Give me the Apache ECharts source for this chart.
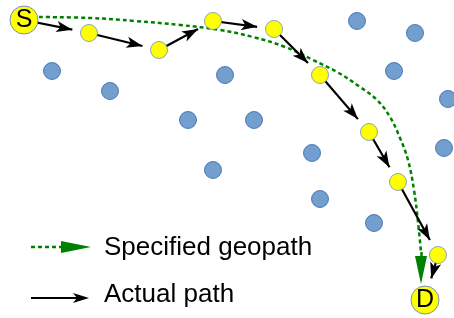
<!DOCTYPE html>
<html>
<head>
<meta charset="utf-8">
<script src="https://cdn.jsdelivr.net/npm/echarts@6/dist/echarts.min.js"></script>
<style>
  html, body { margin: 0; padding: 0; background: #fff; }
  #chart { width: 454px; height: 318px; }
</style>
</head>
<body>
<div id="chart"></div>
<script>
// node positions (pixel space of the picture, y grows downward)
var pathNodes = [[24, 20], [89, 33], [159, 50], [213, 21], [274, 29], [320, 75], [369, 132], [398, 182], [438, 255], [425, 300]];
var endNodes = [{ name: "S", value: [24, 20] }, { name: "D", value: [425, 300] }];
var otherNodes = [[52, 71], [110, 91], [188, 120], [225, 75], [254, 120], [213, 170], [357, 21], [415, 33],
  [394, 71], [448, 99], [312, 153], [444, 148], [320, 199], [374, 223]];
// specified geopath, last point is the arrow tip
var geopath = [[39, 17], [90, 18], [135, 21], [180, 25], [220, 30], [253, 37], [285, 47], [313, 60], [337, 72],
  [360, 87], [377, 100], [390, 117], [400, 138], [408, 160], [414, 190], [418, 222], [421, 252], [421, 284]];
var legendLabels = ["Specified geopath", "Actual path"];

var font = "'Liberation Sans', Arial, sans-serif";
var smallR = 8.5, bigR = 14;
var arrowSize = [8.5, 16];
var geoArrowSize = [12, 28];

// pull segment end back by d along the segment
function shorten(a, b, d) {
  var dx = b[0] - a[0], dy = b[1] - a[1];
  var len = Math.sqrt(dx * dx + dy * dy);
  return [b[0] - dx / len * d, b[1] - dy / len * d];
}

var arrowData = [];
for (var i = 0; i < pathNodes.length - 1; i++) {
  var r = (i + 1 === pathNodes.length - 1) ? bigR : smallR;
  arrowData.push({ coords: [pathNodes[i], shorten(pathNodes[i], pathNodes[i + 1], r + arrowSize[1] / 2 + 0.5)] });
}
var n = geopath.length;
var geoTail = [{ coords: [geopath[n - 2], shorten(geopath[n - 2], geopath[n - 1], geoArrowSize[1] / 2)] }];

var myChart = echarts.init(document.getElementById("chart"));
var option = {
  animation: false,
  grid: { left: 0, right: 0, top: 0, bottom: 0 },
  xAxis: { type: "value", min: 0, max: 454, show: false },
  yAxis: { type: "value", min: 0, max: 318, inverse: true, show: false },
  graphic: [
    { type: "line", shape: { x1: 31, y1: 247, x2: 62, y2: 247 }, style: { stroke: "#008000", lineWidth: 2.5, lineDash: [4, 3] } },
    { type: "polygon", shape: { points: [[61, 241], [91, 247], [61, 253]] }, style: { fill: "#008000" } },
    { type: "text", x: 104, y: 248, style: { text: legendLabels[0], font: "26px " + font, fill: "#000", verticalAlign: "middle" } },
    { type: "line", shape: { x1: 31, y1: 298, x2: 78, y2: 298 }, style: { stroke: "#000", lineWidth: 2 } },
    { type: "polygon", shape: { points: [[73, 293], [89, 298], [73, 303], [77, 298]] }, style: { fill: "#000" } },
    { type: "text", x: 104, y: 295, style: { text: legendLabels[1], font: "26px " + font, fill: "#000", verticalAlign: "middle" } }
  ],
  series: [
    {
      type: "line",
      data: geopath.slice(0, n - 1),
      smooth: 0.4,
      showSymbol: false,
      symbol: "none",
      z: 1,
      lineStyle: { color: "#008000", width: 2.5, type: [4, 3] }
    },
    {
      type: "lines",
      coordinateSystem: "cartesian2d",
      data: geoTail,
      symbol: ["none", "triangle"],
      symbolSize: [0, geoArrowSize],
      z: 1,
      lineStyle: { color: "#008000", width: 2.5, type: [4, 3], opacity: 1 }
    },
    {
      type: "lines",
      coordinateSystem: "cartesian2d",
      data: arrowData,
      symbol: ["none", "arrow"],
      symbolSize: [0, arrowSize],
      z: 2,
      lineStyle: { color: "#000", width: 2.2, opacity: 1 }
    },
    {
      type: "scatter",
      data: otherNodes,
      symbolSize: smallR * 2,
      z: 3,
      itemStyle: { color: "#729fcf", borderColor: "#3465a4", borderWidth: 0.8, opacity: 1 }
    },
    {
      type: "scatter",
      data: pathNodes.slice(1, pathNodes.length - 1),
      symbolSize: smallR * 2,
      z: 3,
      itemStyle: { color: "#ffff00", borderColor: "#6f8fb8", borderWidth: 0.8, opacity: 1 }
    },
    {
      type: "scatter",
      data: endNodes,
      symbolSize: bigR * 2,
      z: 4,
      itemStyle: { color: "#ffff00", borderColor: "#6f8fb8", borderWidth: 1, opacity: 1 },
      label: { show: true, position: "inside", formatter: "{b}", fontSize: 25, fontFamily: font, color: "#000" }
    }
  ]
};
myChart.setOption(option);
</script>
</body>
</html>
